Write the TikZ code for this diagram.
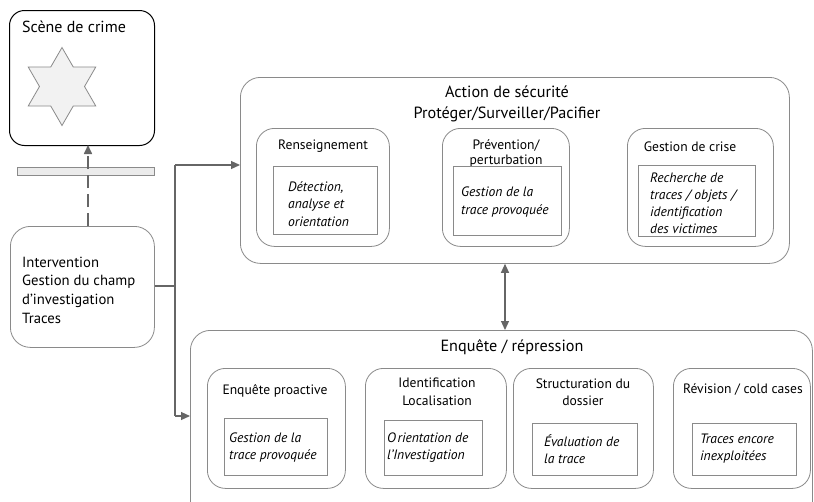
\documentclass[tikz,border=0pt]{standalone}
\usepackage{fontspec}
\setmainfont{PT Sans}
\usetikzlibrary{arrows.meta,calc,shapes.geometric}
\definecolor{bord}{HTML}{8A8A8A}
\definecolor{arrc}{HTML}{666666}
\definecolor{starfill}{HTML}{F2F2F2}
\definecolor{barfill}{HTML}{EBEBEB}
\begin{document}
\begin{tikzpicture}[x=1pt,y=-1pt,
  rbox/.style={draw=bord, line width=0.8pt, rounded corners=18pt, anchor=north west, inner sep=0pt},
  sbox/.style={draw=bord, line width=0.8pt, anchor=north west, inner sep=0pt},
  lbl/.style={inner sep=0pt, align=center, font=\fontsize{13.6}{14}\selectfont},
  ttl/.style={inner sep=0pt, align=center, font=\fontsize{16.2}{16}\selectfont},
  itx/.style={inner sep=0pt, align=left, anchor=west, font=\fontsize{13.6}{17.5}\selectfont\itshape},
  arr/.style={draw=arrc, line width=1.2pt, -{Triangle[length=9pt,width=8pt]}},
]
\useasboundingbox (0,0) rectangle (814,501);
\clip (0,0) rectangle (814,501);
\fill[white] (0,0) rectangle (814,501);

% scene de crime
\node[rbox, draw=black, line width=1pt, rounded corners=15pt, minimum width=145pt, minimum height=135pt] (scene) at (9,10) {};
\node[inner sep=0pt, anchor=west, font=\fontsize{16}{16}\selectfont] (sceneT) at (22,27) {Scène de crime};
\node[draw=bord, fill=starfill, line width=0.8pt, star, star points=6, star point ratio=1.732, minimum size=78pt, inner sep=0pt] (star) at (62,86.5) {};

% bar
\node[sbox, fill=barfill, minimum width=137pt, minimum height=8pt] (bar) at (17,167) {};

% intervention
\node[rbox, rounded corners=20pt, minimum width=144pt, minimum height=121pt] (interv) at (10,226) {};
\node[inner sep=0pt, anchor=west, align=left, font=\fontsize{14.7}{18.7}\selectfont] (intervT) at (22,290) {Intervention\\Gestion du champ\\d’investigation\\Traces};

% dashed arrow
\coordinate (dtop) at (88,145);
\draw[arr, line width=1.6pt, dash pattern=on 13pt off 6pt] (interv.north -| dtop) -- (dtop);

% action de securite
\node[rbox, rounded corners=20pt, minimum width=549pt, minimum height=186pt] (action) at (240,77) {};
\node[ttl] (actT) at (507,92) {Action de sécurité};
\node[ttl] (actS) at (507,114) {Protéger/Surveiller/Pacifier};

\node[rbox, minimum width=133pt, minimum height=118pt] (rens) at (256,128) {};
\node[lbl] (rensT) at (323,146) {Renseignement};
\node[sbox, minimum width=104pt, minimum height=68pt] (rensR) at (273,166) {};
\node[itx] (rensX) at (288,204) {Détection,\\analyse et\\orientation};

\node[rbox, minimum width=127pt, minimum height=118pt] (prev) at (442,128) {};
\node[lbl, font=\fontsize{13.6}{15}\selectfont] (prevT) at (506,153.5) {Prévention/\\perturbation};
\node[sbox, minimum width=108pt, minimum height=69pt] (prevR) at (453,166) {};
\node[itx] (prevX) at (461,202) {Gestion de la\\trace provoquée};

\node[rbox, minimum width=146pt, minimum height=118pt] (crise) at (627,128) {};
\node[lbl] (criseT) at (690,147) {Gestion de crise};
\node[sbox, minimum width=117pt, minimum height=71pt] (criseR) at (638,165) {};
\node[itx, font=\fontsize{13.6}{17}\selectfont\itshape] (criseX) at (650,203.5) {Recherche de\\traces / objets /\\identification\\des victimes};

% enquete
\node[rbox, rounded corners=20pt, minimum width=622pt, minimum height=200pt] (enq) at (190,330) {};
\node[ttl] (enqT) at (512,347) {Enquête / répression};

\node[rbox, minimum width=138pt, minimum height=120pt] (pro) at (207,368) {};
\node[lbl] (proT) at (275,391) {Enquête proactive};
\node[sbox, minimum width=103pt, minimum height=57pt] (proR) at (224,418) {};
\node[itx] (proX) at (229,447.5) {Gestion de la\\trace provoquée};

\node[rbox, minimum width=141pt, minimum height=120pt] (ident) at (365,368) {};
\node[lbl, font=\fontsize{13.6}{17.5}\selectfont] (identT) at (437,392) {Identification\\Localisation};
\node[sbox, minimum width=98pt, minimum height=55pt] (identR) at (384,420) {};
\node[itx] (identX) at (387,447.5) {O\kern1.5pt rientation de\\l’Investigation};

\node[rbox, minimum width=140pt, minimum height=120pt] (struct) at (513,368) {};
\node[lbl, font=\fontsize{13.6}{17.5}\selectfont] (structT) at (583,392) {Structuration du\\dossier};
\node[sbox, minimum width=105pt, minimum height=52pt] (structR) at (532,423) {};
\node[itx] (structX) at (544,449) {Évaluation de\\la trace};

\node[rbox, minimum width=137pt, minimum height=120pt] (rev) at (673,368) {};
\node[lbl] (revT) at (743,390) {Révision / cold cases};
\node[sbox, minimum width=104pt, minimum height=52pt] (revR) at (692,423) {};
\node[itx] (revX) at (700,448.5) {Traces encore\\inexploitées};

% connectors
\coordinate (junc) at (175,286);
\coordinate (upt) at (175,165);
\coordinate (lowt) at (175,416);
\draw[draw=arrc, line width=2.2pt] (interv.east |- junc) -- (junc);
\draw[draw=arrc, line width=1.2pt] (upt) -- (lowt);
\draw[arr] (upt) -- (action.west |- upt);
\draw[arr] (lowt) -- (enq.west |- lowt);

\coordinate (dbl) at (505,0);
\draw[draw=arrc, line width=1.2pt, {Triangle[length=9pt,width=8pt]}-{Triangle[length=9pt,width=8pt]}] (action.south -| dbl) -- (enq.north -| dbl);
\end{tikzpicture}
\end{document}
